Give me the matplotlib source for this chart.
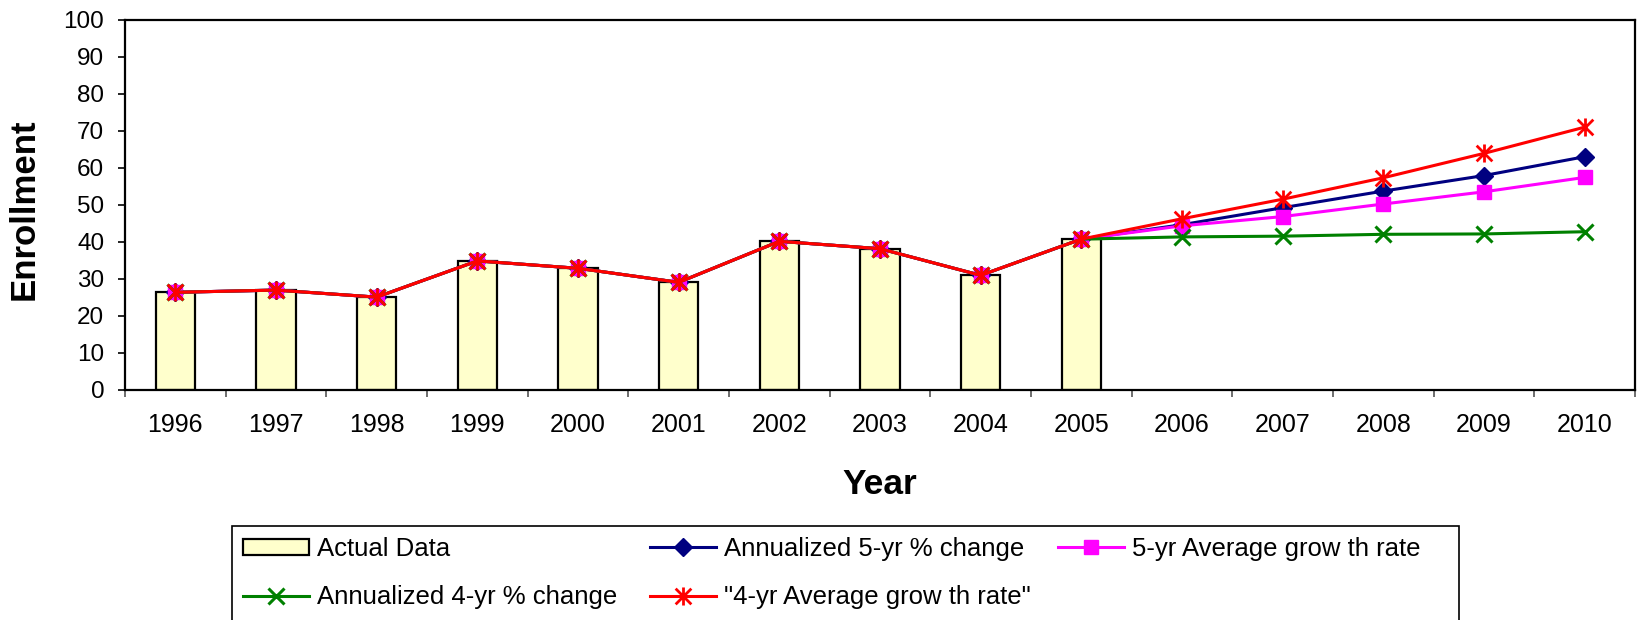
import matplotlib
matplotlib.use("Agg")
import matplotlib.pyplot as plt
from matplotlib.path import Path
from matplotlib.patches import Rectangle, Patch
from matplotlib.lines import Line2D

plt.rcParams['font.family'] = ['Liberation Sans', 'DejaVu Sans']

# ---- data ----
years = ['1996', '1997', '1998', '1999', '2000', '2001', '2002', '2003',
         '2004', '2005', '2006', '2007', '2008', '2009', '2010']
actual = [26.3, 26.9, 25.0, 34.8, 32.8, 29.0, 40.1, 38.1, 30.9, 40.7]
ann5_proj = [44.6, 49.2, 53.7, 57.9, 63.0]
avg5_proj = [44.3, 46.8, 50.2, 53.5, 57.4]
ann4_proj = [41.3, 41.5, 42.0, 42.1, 42.7]
avg4_proj = [46.2, 51.5, 57.3, 63.9, 71.0]
y_ticks = [0, 10, 20, 30, 40, 50, 60, 70, 80, 90, 100]

labels = ['Actual Data', 'Annualized 5-yr % change', '5-yr Average grow th rate',
          'Annualized 4-yr % change', '"4-yr Average grow th rate"']

ann5 = actual + ann5_proj
avg5 = actual + avg5_proj
ann4 = actual + ann4_proj
avg4 = actual + avg4_proj

W, H = 1639, 620
fig = plt.figure(figsize=(W / 100, H / 100), dpi=100)
L, R, T, B = 125, 1635, 20, 389.5
ax = fig.add_axes([L / W, 1 - B / H, (R - L) / W, (B - T) / H])

x_all = list(range(len(years)))
x_act = x_all[:len(actual)]

ax.bar(x_act, actual, width=0.39, color='#FFFFCC', edgecolor='black',
       linewidth=1.6, zorder=2)

star = Path([(-1, -1), (1, 1), (-1, 1), (1, -1), (0, -1.15), (0, 1.15)],
            [Path.MOVETO, Path.LINETO, Path.MOVETO, Path.LINETO,
             Path.MOVETO, Path.LINETO])

sty_ann5 = dict(color='#000080', lw=2.2, marker='D', ms=9.5, mfc='#000080', mec='#000080')
sty_avg5 = dict(color='#FF00FF', lw=2.2, marker='s', ms=9.5, mfc='#FF00FF', mec='#FF00FF')
sty_ann4 = dict(color='#008000', lw=2.2, marker='x', ms=12, mew=2.2, mec='#008000')
sty_avg4 = dict(color='#FF0000', lw=2.2, marker=star, ms=13, mew=2.0, mec='#FF0000')

ax.plot(x_all, ann5, zorder=3, **sty_ann5)
ax.plot(x_all, avg5, zorder=4, **sty_avg5)
ax.plot(x_all, ann4, zorder=5, **sty_ann4)
ax.plot(x_all, avg4, zorder=6, **sty_avg4)

ax.set_xlim(-0.5, len(years) - 0.5)
ax.set_ylim(0, 100)
ax.set_yticks(y_ticks)
ax.set_xticks(x_all)
ax.set_xticklabels(years)
ax.set_xticks([i - 0.5 for i in range(len(years) + 1)], minor=True)
ax.tick_params(axis='x', which='major', length=0, pad=17, labelsize=18)
ax.tick_params(axis='x', which='minor', length=5, width=1.2, color='#555555',
               direction='out')
ax.tick_params(axis='y', which='major', length=5, width=1.2, pad=10,
               labelsize=17.5, direction='out')
for s in ax.spines.values():
    s.set_linewidth(1.6)
    s.set_color('black')

ax.set_ylabel('Enrollment', fontsize=25, fontweight='bold', va='center')
ax.yaxis.set_label_coords((24 - L) / (R - L), (B - 209) / (B - T))
ax.set_xlabel('Year', fontsize=25.5, fontweight='bold', va='center')
ax.xaxis.set_label_coords(0.5, (B - 484) / (B - T))

# legend (three columns placed like the reference)
h_act = Patch(facecolor='#FFFFCC', edgecolor='black', linewidth=1.6)
h_ann5 = Line2D([], [], **sty_ann5)
h_avg5 = Line2D([], [], **sty_avg5)
h_ann4 = Line2D([], [], **sty_ann4)
h_avg4 = Line2D([], [], **sty_avg4)

columns = [
    (243, [h_act, h_ann4], [labels[0], labels[3]]),
    (650, [h_ann5, h_avg4], [labels[1], labels[4]]),
    (1058, [h_avg5], [labels[2]]),
]
for xpx, hs, ls in columns:
    fig.legend(hs, ls, loc='upper left', bbox_to_anchor=(xpx / W, 1 - 537 / H),
               frameon=False, borderpad=0, borderaxespad=0, fontsize=18.5,
               handlelength=2.57, handleheight=0.6, handletextpad=0.31,
               labelspacing=0.94)

fig.add_artist(Rectangle((232 / W, -0.05), (1459 - 232) / W, 0.05 + 1 - 525.5 / H,
                         transform=fig.transFigure, fill=False,
                         edgecolor='black', linewidth=1.2))

fig.savefig('out.png', dpi=100)
